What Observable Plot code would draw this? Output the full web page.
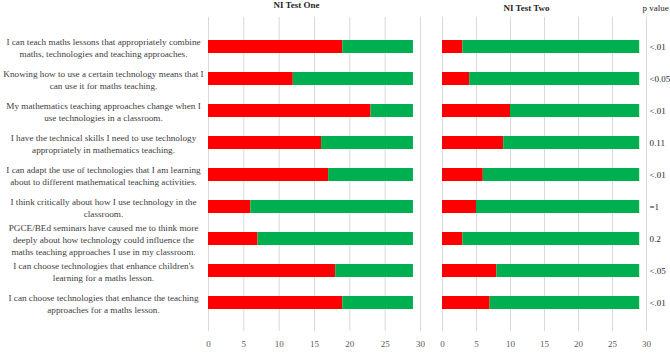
<!DOCTYPE html>
<html>
<head>
<meta charset="utf-8">
<script src="https://cdn.jsdelivr.net/npm/d3@7"></script>
<script src="https://cdn.jsdelivr.net/npm/@observablehq/plot@0.6"></script>
<style>
  html, body { margin: 0; padding: 0; background: #fff; }
  #chart { position: relative; width: 670px; height: 362px; overflow: hidden; }
  #chart svg { position: absolute; top: 0; }
</style>
</head>
<body>
<div id="chart"></div>
<script>
const questions = [
  "I can teach maths lessons that appropriately combine\nmaths, technologies and teaching approaches.",
  "Knowing how to use a certain technology means that I\ncan use it for maths teaching.",
  "My mathematics teaching approaches change when I\nuse technologies in a classroom.",
  "I have the technical skills I need to use technology\nappropriately in mathematics teaching.",
  "I can adapt the use of technologies that I am learning\nabout to different mathematical teaching activities.",
  "I think critically about how I use technology in the\nclassroom.",
  "PGCE/BEd seminars have caused me to think more\ndeeply about how technology could influence the\nmaths teaching approaches I use in my classroom.",
  "I can choose technologies that enhance children's\nlearning for a maths lesson.",
  "I can choose technologies that enhance the teaching\napproaches for a maths lesson."
];
const testOneDisagree = [19, 12, 23, 16, 17, 6, 7, 18, 19];
const testOneAgree    = [10, 17, 6, 13, 12, 23, 22, 11, 10];
const testTwoDisagree = [3, 4, 10, 9, 6, 5, 3, 8, 7];
const testTwoAgree    = [26, 25, 19, 20, 23, 24, 26, 21, 22];
const pValues = ["<.01", "<0.05", "<.01", "0.11", "<.01", "=1", "0.2", "<.05", "<.01"];
const xTicks = [0, 5, 10, 15, 20, 25, 30];
const panelTitles = ["NI Test One", "NI Test Two"];
const pHeader = "p value";
const parts = ["disagree", "agree"];
const partColors = ["#FF0000", "#00B050"];

function rows(a, b) {
  const out = [];
  questions.forEach((q, i) => {
    out.push({q, part: parts[0], value: a[i]});
    out.push({q, part: parts[1], value: b[i]});
  });
  return out;
}

const font = "'Liberation Serif', 'DejaVu Serif', serif";

function panel({data, width, marginLeft, marginRight, title, titleDx, titleDy, extra}) {
  return Plot.plot({
    width, height: 362,
    marginLeft, marginRight, marginTop: 17, marginBottom: 31,
    style: {fontFamily: font, fontSize: "9px", background: "transparent"},
    x: {domain: [0, 30], ticks: xTicks, axis: null},
    y: {domain: questions, padding: 0.6, axis: null},
    color: {type: "ordinal", domain: parts, range: partColors},
    marks: [
      Plot.gridX(xTicks, {stroke: "#d9d9d9", strokeOpacity: 1, strokeWidth: 1}),
      Plot.barX(data, Plot.stackX({x: "value", y: "q", fill: "part", order: null})),
      Plot.axisX(xTicks, {tickSize: 0, tickPadding: 9, fill: "#595959", label: null, fontSize: 9}),
      Plot.text([title], {frameAnchor: "top", lineAnchor: "middle", dx: titleDx, dy: titleDy, fontWeight: "bold", fill: "#262626", fontSize: 9}),
      ...extra
    ]
  });
}

const left = panel({
  data: rows(testOneDisagree, testOneAgree),
  width: 430, marginLeft: 208, marginRight: 10,
  title: panelTitles[0], titleDx: -18, titleDy: -12,
  extra: [
    Plot.text(questions, {y: d => d, text: d => d, frameAnchor: "left", dx: -105, textAnchor: "middle", lineAnchor: "middle", lineHeight: 1.3, fill: "#404040", fontSize: 9.2})
  ]
});
left.style.left = "0px";

const right = panel({
  data: rows(testTwoDisagree, testTwoAgree),
  width: 240, marginLeft: 12, marginRight: 24,
  title: panelTitles[1], titleDx: -18, titleDy: -9,
  extra: [
    Plot.text(pValues, {y: (d, i) => questions[i], text: d => d, frameAnchor: "right", dx: 3, textAnchor: "start", fill: "#262626", fontSize: 9}),
    Plot.text([pHeader], {frameAnchor: "top-right", lineAnchor: "middle", dx: -4, dy: -9, textAnchor: "start", fill: "#262626", fontSize: 9})
  ]
});
right.style.left = "430px";

document.getElementById("chart").append(left, right);
</script>
</body>
</html>
